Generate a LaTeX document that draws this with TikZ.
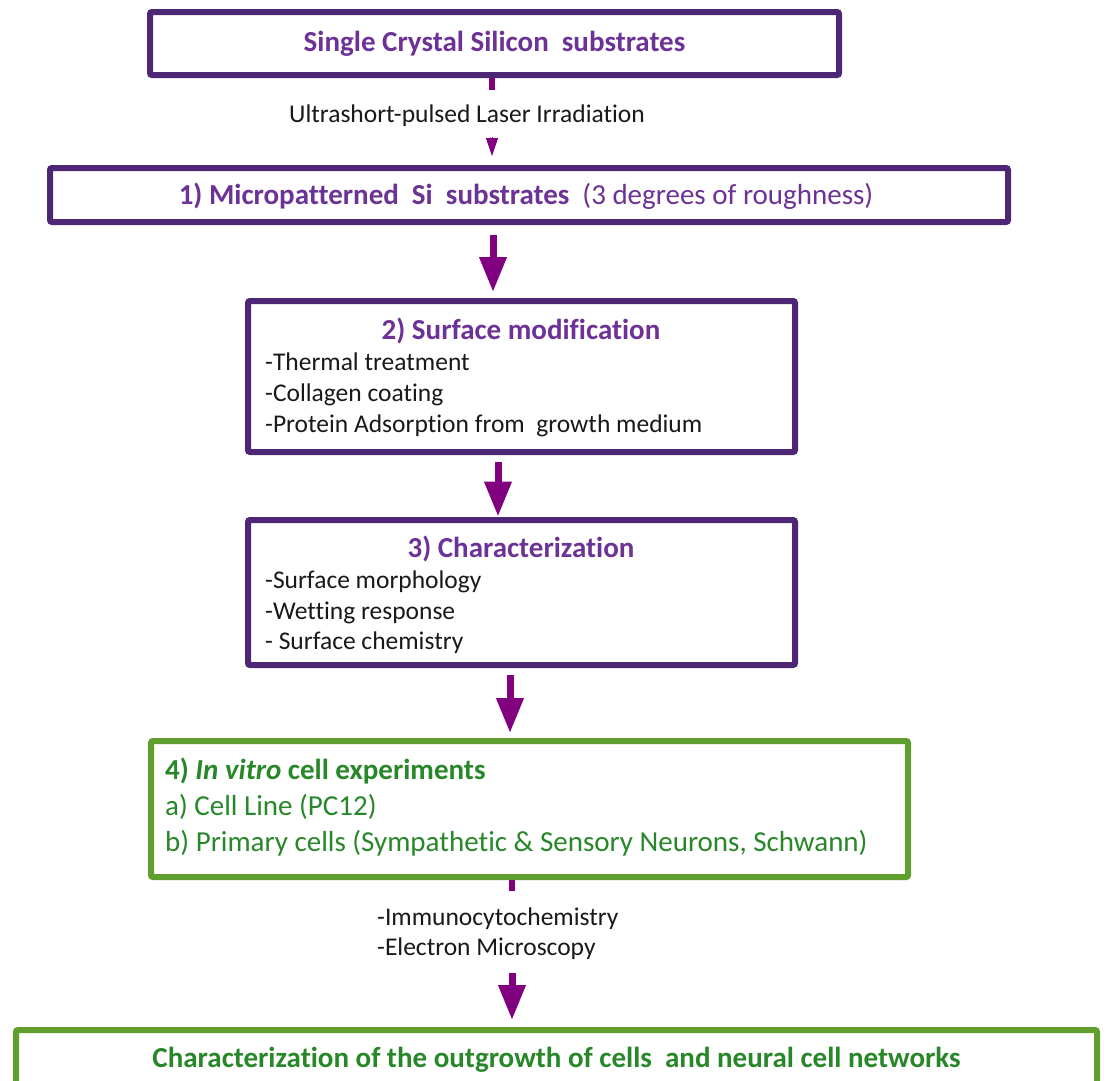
\documentclass[tikz,border=0pt]{standalone}
\usepackage{fontspec}
\setmainfont{Carlito}[Ligatures=NoCommon]
\usetikzlibrary{arrows.meta}
\definecolor{boxpurple}{RGB}{78,38,118}
\definecolor{txtpurple}{RGB}{108,50,150}
\definecolor{arrpurple}{RGB}{128,0,128}
\definecolor{boxgreen}{RGB}{96,158,46}
\definecolor{txtgreen}{RGB}{40,135,40}
\definecolor{txtblack}{RGB}{25,25,25}
\begin{document}
\begin{tikzpicture}[x=1pt,y=-1pt,
  pbox/.style={draw=boxpurple,line width=6pt,rounded corners=2pt,inner sep=0pt,fill=white},
  gbox/.style={draw=boxgreen,line width=6pt,rounded corners=2pt,inner sep=0pt,fill=white},
  ttl/.style={font=\fontsize{29}{35}\selectfont\bfseries,inner sep=0pt},
  reg/.style={font=\fontsize{29}{35}\selectfont,inner sep=0pt},
  body/.style={font=\fontsize{25.5}{31}\selectfont,inner sep=0pt,text=txtblack},
  bigarr/.style={draw=arrpurple,line width=7pt,-{Triangle[length=35pt,width=26pt]}},
  stemline/.style={draw=arrpurple,line width=6pt},
  tipsmall/.style={draw=arrpurple,line width=1pt,-{Triangle[length=18pt,width=12pt]}}]
\useasboundingbox (0,0) rectangle (1111,1080);
\fill[white] (0,0) rectangle (1111,1080);

% boxes
\node[pbox,minimum width=689pt,minimum height=63pt] (b0) at (494.5,43.5) {};
\node[pbox,minimum width=958pt,minimum height=54pt] (b1) at (529,195) {};
\node[pbox,minimum width=547pt,minimum height=151pt] (b2) at (521.5,376.5) {};
\node[pbox,minimum width=547pt,minimum height=145pt] (b3) at (521.5,592.5) {};
\node[gbox,minimum width=757pt,minimum height=136pt] (b4) at (529.5,809) {};
\node[gbox,minimum width=1081pt,minimum height=65pt] (b5) at (556.5,1062.5) {};

% texts
\node[ttl,text=txtpurple,anchor=base] (t0) at (494.5,51) {Single Crystal Silicon\ \ substrates};
\node[body,anchor=base] (l1) at (467,122) {Ultrashort-pulsed Laser Irradiation};
\node[ttl,text=txtpurple,anchor=base] (t1) at (526,204) {1) Micropatterned\ \ Si\ \ substrates\ \ {\mdseries(3 degrees of roughness)}};

\node[ttl,text=txtpurple,anchor=base] (t2) at (521,339) {2) Surface modification};
\node[body,anchor=base west] (t2a) at (265,370) {-Thermal treatment};
\node[body,anchor=base west] (t2b) at (265,401) {-Collagen coating};
\node[body,anchor=base west] (t2c) at (265,432) {-Protein Adsorption from\ \ growth medium};

\node[ttl,text=txtpurple,anchor=base] (t3) at (521,557) {3) Characterization};
\node[body,anchor=base west] (t3a) at (265,588) {-Surface morphology};
\node[body,anchor=base west] (t3b) at (265,619) {-Wetting response};
\node[body,anchor=base west] (t3c) at (265,649) {- Surface chemistry};

\node[ttl,text=txtgreen,anchor=base west] (t4) at (165,779) {4) \textit{In vitro} cell experiments};
\node[reg,text=txtgreen,anchor=base west] (t4a) at (165,815) {a) Cell Line (PC12)};
\node[reg,text=txtgreen,anchor=base west] (t4b) at (165,851) {b) Primary cells (Sympathetic \& Sensory Neurons, Schwann)};

\node[body,anchor=base west] (l4a) at (377,925) {-Immunocytochemistry};
\node[body,anchor=base west] (l4b) at (377,955) {-Electron Microscopy};

\node[ttl,text=txtgreen,anchor=base] (t5) at (556.5,1067) {Characterization of the outgrowth of cells\ \ and neural cell networks};

% connectors
\coordinate (a1) at (492,0);
\coordinate (s1) at (492,90);
\coordinate (s1b) at (492,137);
\draw[stemline] (b0.south -| a1) -- (s1);
\draw[tipsmall,shorten >=9pt] (s1b) -- (b1.north -| a1);

\coordinate (a2) at (493,0);
\draw[bigarr,shorten <=10pt,shorten >=6pt] (b1.south -| a2) -- (b2.north -| a2);

\coordinate (a3) at (498,0);
\draw[bigarr,shorten <=7pt,shorten >=0.5pt] (b2.south -| a3) -- (b3.north -| a3);

\coordinate (a4) at (510,0);
\draw[bigarr,shorten <=7pt,shorten >=5pt] (b3.south -| a4) -- (b4.north -| a4);

\coordinate (a5) at (512,0);
\coordinate (s4) at (512,891);
\draw[stemline] (b4.south -| a5) -- (s4);
\coordinate (s5) at (512,973);
\draw[bigarr,shorten >=7pt] (s5) -- (b5.north -| a5);
\end{tikzpicture}
\end{document}
